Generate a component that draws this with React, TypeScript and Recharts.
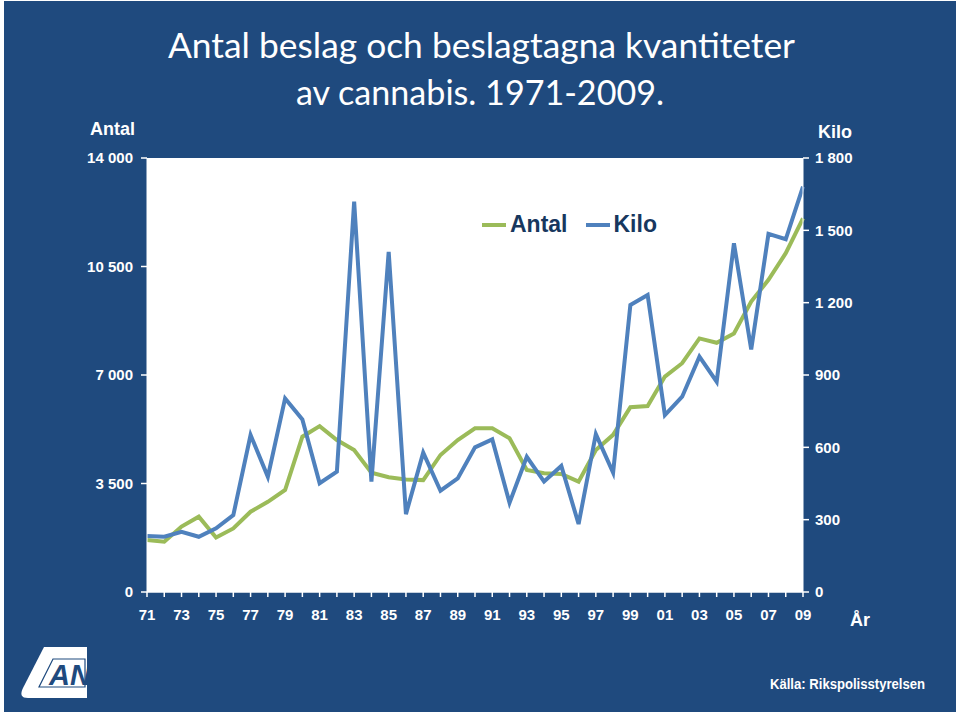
import React from "react";
import { LineChart, Line, XAxis, YAxis, CartesianGrid, Legend } from "recharts";

const YEARS = [
  1971, 1972, 1973, 1974, 1975, 1976, 1977, 1978, 1979, 1980, 1981, 1982, 1983,
  1984, 1985, 1986, 1987, 1988, 1989, 1990, 1991, 1992, 1993, 1994, 1995, 1996,
  1997, 1998, 1999, 2000, 2001, 2002, 2003, 2004, 2005, 2006, 2007, 2008, 2009,
];

// antal beslag (vänster axel)
const ANTAL = [
  1680, 1620, 2110, 2430, 1760, 2050, 2590, 2910, 3290, 5010, 5350, 4900, 4580,
  3850, 3700, 3630, 3610, 4420, 4900, 5280, 5280, 4960, 3940, 3830, 3810, 3560,
  4580, 5070, 5960, 6000, 6950, 7380, 8180, 8040, 8340, 9370, 10070, 10930, 12050,
];

// beslagtagna kilo (höger axel)
const KILO = [
  232, 229, 250, 229, 264, 319, 651, 478, 803, 716, 451, 499, 1619, 458, 1411,
  323, 578, 420, 471, 600, 633, 370, 561, 458, 523, 282, 655, 495, 1190, 1232,
  734, 810, 976, 872, 1446, 1006, 1485, 1463, 1681,
];

const ANTAL_TICKS = [0, 3500, 7000, 10500, 14000];
const KILO_TICKS = [0, 300, 600, 900, 1200, 1500, 1800];

const BG = "#1f4a7e";
const GREEN = "#9bbb59";
const BLUE = "#4f81bd";
const NAVY = "#17375e";
const FONT = "'Liberation Sans', Arial, sans-serif";

const data = YEARS.map((y, i) => ({ year: y, antal: ANTAL[i], kilo: KILO[i] }));

const spaced = (v: number) => String(v).replace(/\B(?=(\d{3})+(?!\d))/g, " ");

const tickStyle = { fill: "#fff", fontSize: 15, fontWeight: "bold", fontFamily: FONT };

function ChartLegend() {
  const item = (label: string, color: string) => (
    <span style={{ display: "inline-flex", alignItems: "center", marginRight: 18 }}>
      <span style={{ display: "inline-block", width: 24, height: 4, background: color, marginRight: 4 }} />
      <span style={{ color: NAVY, fontSize: 23, fontWeight: "bold", fontFamily: FONT }}>{label}</span>
    </span>
  );
  return (
    <div style={{ display: "flex", alignItems: "center" }}>
      {item("Antal", GREEN)}
      {item("Kilo", BLUE)}
    </div>
  );
}

function Backdrop() {
  return (
    <svg width={960} height={716} style={{ position: "absolute", left: 0, top: 0 }}>
      <rect x={0} y={0} width={960} height={716} fill="#ffffff" />
      <rect x={4} y={1} width={952} height={711} fill={BG} />
      <g fill="#fff" fontFamily="Lato, 'Open Sans', sans-serif">
        <text x={168} y={58} fontSize={34} textLength={627} lengthAdjust="spacingAndGlyphs">
          Antal beslag och beslagtagna kvantiteter
        </text>
        <text x={296} y={105} fontSize={34} textLength={368} lengthAdjust="spacingAndGlyphs">
          av cannabis. 1971-2009.
        </text>
      </g>
      <g fill="#fff" fontFamily={FONT} fontWeight="bold">
        <text x={90} y={135} fontSize={18}>Antal</text>
        <text x={818} y={138} fontSize={18}>Kilo</text>
        <text x={850} y={626} fontSize={18}>År</text>
        <text x={770} y={689} fontSize={14} textLength={155} lengthAdjust="spacingAndGlyphs">
          Källa: Rikspolisstyrelsen
        </text>
      </g>
      {/* logga */}
      <path d="M44 647 L87 647 L87 698 L28 698 Q18 698 23 688 Z" fill="#fff" />
      <path d="M53 659 L85 659 L85 687 L39 687 Z" fill="none" stroke={BG} strokeWidth={1.2} />
      <text x={49} y={685} fontSize={29} fontWeight="bold" fontStyle="italic" fill={BG} fontFamily={FONT}>
        AN
      </text>
    </svg>
  );
}

export default function App() {
  return (
    <div style={{ position: "fixed", left: 0, top: 0, width: 960, height: 716, overflow: "hidden" }}>
      <Backdrop />
      <div style={{ position: "absolute", left: 0, top: 0 }}>
        <LineChart width={960} height={716} data={data} margin={{ top: 158, left: 87, right: 97, bottom: 94 }}>
          <CartesianGrid yAxisId="antal" fill="#ffffff" horizontal={false} vertical={false} />
          <XAxis
            dataKey="year"
            type="number"
            domain={[1971, 2009]}
            ticks={YEARS}
            interval={0}
            height={30}
            tickFormatter={(y: number) => (y % 2 === 1 ? String(y).slice(2) : "")}
            tick={tickStyle}
            tickSize={5}
            tickMargin={12}
            stroke="#fff"
            axisLine={{ stroke: "#fff", strokeWidth: 1.5 }}
            tickLine={{ stroke: "#fff", strokeWidth: 1.5 }}
          />
          <YAxis
            yAxisId="antal"
            domain={[0, 14000]}
            ticks={ANTAL_TICKS}
            width={60}
            tickFormatter={spaced}
            tick={tickStyle}
            tickSize={6}
            tickMargin={8}
            axisLine={{ stroke: "#fff" }}
            tickLine={{ stroke: "#fff", strokeWidth: 1.5 }}
          />
          <YAxis
            yAxisId="kilo"
            orientation="right"
            domain={[0, 1800]}
            ticks={KILO_TICKS}
            width={60}
            tickFormatter={spaced}
            tick={tickStyle}
            tickSize={6}
            tickMargin={6}
            axisLine={{ stroke: "#fff" }}
            tickLine={{ stroke: "#fff", strokeWidth: 1.5 }}
          />
          <Legend
            layout="horizontal"
            verticalAlign="middle"
            align="center"
            content={<ChartLegend />}
            wrapperStyle={{ position: "absolute", left: 482, top: 211, width: "auto" }}
          />
          <Line
            yAxisId="antal"
            dataKey="antal"
            name="Antal"
            type="linear"
            stroke={GREEN}
            strokeWidth={4}
            dot={false}
            isAnimationActive={false}
          />
          <Line
            yAxisId="kilo"
            dataKey="kilo"
            name="Kilo"
            type="linear"
            stroke={BLUE}
            strokeWidth={4}
            dot={false}
            isAnimationActive={false}
          />
        </LineChart>
      </div>
    </div>
  );
}
